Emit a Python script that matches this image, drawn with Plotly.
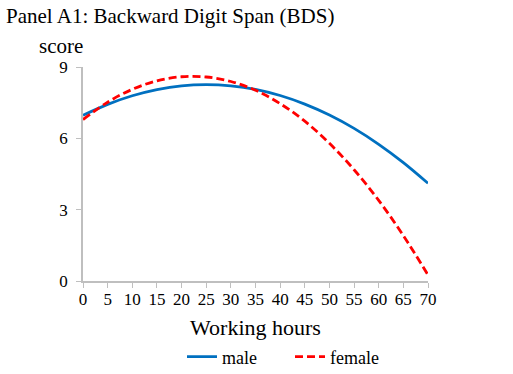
import plotly.graph_objects as go

hours = [0, 5, 10, 15, 20, 25, 30, 35, 40, 45, 50, 55, 60, 65, 70]
male = [6.97, 7.43, 7.79, 8.05, 8.21, 8.26, 8.21, 8.06, 7.80, 7.44, 6.98, 6.42, 5.75, 4.98, 4.11]
female = [6.79, 7.52, 8.06, 8.42, 8.59, 8.58, 8.39, 8.02, 7.46, 6.72, 5.79, 4.68, 3.39, 1.91, 0.25]
x_ticks = list(range(0, 71, 5))
y_ticks = [0, 3, 6, 9]

FONT = "Liberation Serif, Times New Roman, serif"

W, H = 513, 374
ML, MR, MT, MB = 83, 85, 67, 93
PW, PH = W - ML - MR, H - MT - MB


def px(xp):
    return (xp - ML) / PW


def py(yp):
    return (H - MB - yp) / PH


fig = go.Figure()
fig.add_trace(go.Scatter(x=hours, y=male, name="male", mode="lines",
                         line=dict(color="#0070C0", width=2.8, shape="spline"),
                         cliponaxis=False))
fig.add_trace(go.Scatter(x=hours, y=female, name="female", mode="lines",
                         line=dict(color="#FF0000", width=2.8, dash="8px,4px", shape="spline"),
                         cliponaxis=False))

axis_common = dict(showgrid=False, zeroline=False, showline=True, linecolor="#BFBFBF",
                   linewidth=1.5, ticks="outside", tickcolor="#BFBFBF", ticklen=5,
                   tickfont=dict(family=FONT, size=17, color="black"))

fig.update_layout(
    width=W, height=H,
    margin=dict(l=ML, r=MR, t=MT, b=MB, autoexpand=False),
    paper_bgcolor="white", plot_bgcolor="white",
    font=dict(family=FONT, color="black"),
    xaxis=dict(range=[0, 70], tickvals=x_ticks, ticklabelstandoff=-3, **axis_common,
               title=dict(text="Working hours", font=dict(family=FONT, size=22), standoff=11)),
    yaxis=dict(range=[0, 9], tickvals=y_ticks, ticklabelstandoff=5, **axis_common),
    showlegend=True,
    legend=dict(orientation="h", x=px(182), xanchor="left", y=py(357), yanchor="middle",
                font=dict(family=FONT, size=18), traceorder="normal",
                entrywidth=63, entrywidthmode="pixels"),
    annotations=[
        dict(text="Panel A1: Backward Digit Span (BDS)", x=px(4), y=py(16), xref="paper", yref="paper",
             xanchor="left", yanchor="middle", showarrow=False, font=dict(family=FONT, size=21)),
        dict(text="score", xref="paper", yref="paper", x=px(61), y=py(46), xanchor="center",
             yanchor="middle", showarrow=False, font=dict(family=FONT, size=21)),
    ],
)

fig.write_html("out.html", config={"displayModeBar": False},
               post_script="document.body.style.margin='0px';")
